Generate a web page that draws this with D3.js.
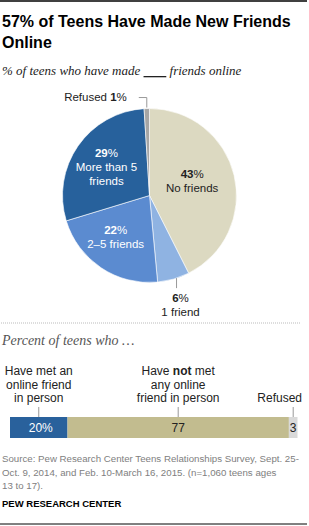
<!DOCTYPE html>
<html>
<head>
<meta charset="utf-8">
<script src="https://cdn.jsdelivr.net/npm/d3@7"></script>
<style>
  body { margin: 0; background: #fff; }
  svg { display: block; }
</style>
</head>
<body>
<div id="chart"></div>
<script>
const WIDTH = 309
const HEIGHT = 526

// pie data (clockwise from 12 o'clock)
const pieKeys = ["none", "one", "twoFive", "moreFive", "refused"]
const pieValues = [43, 6, 22, 29, 1]
const pieNames = [["No friends"], ["1 friend"], ["2\u20135 friends"], ["More than 5", "friends"], ["Refused"]]
const pieColors = ["#dcd9c1", "#8fb3e2", "#5b8bd0", "#27619c", "#a5a5a5"]

// bar data
const barKeys = ["met", "notMet", "refused"]
const barValues = [20, 77, 3]
const barValueLabels = ["20%", "77", "3"]
const barColors = ["#29619c", "#c2bc8f", "#d9d9d9"]
const barTextColors = ["#fff", "#222", "#222"]

const svg = d3.select("#chart").append("svg")
  .attr("width", WIDTH)
  .attr("height", HEIGHT)

const SANS = "'Liberation Sans', Arial, sans-serif"
const SERIF = "'Liberation Serif', Georgia, serif"

// rules top and bottom
svg.append("line").attr("x1", 0).attr("x2", 307).attr("y1", 1).attr("y2", 1)
  .attr("stroke", "#000").attr("stroke-width", 1.5)
svg.append("line").attr("x1", 0).attr("x2", 307).attr("y1", 524).attr("y2", 524)
  .attr("stroke", "#000").attr("stroke-width", 1)

// title
const title = svg.append("text")
  .attr("font-family", SANS).attr("font-weight", "bold").attr("font-size", "16px")
  .attr("fill", "#000")
title.append("tspan").attr("x", 2).attr("y", 27).text("57% of Teens Have Made New Friends")
title.append("tspan").attr("x", 2).attr("y", 48).text("Online")

const sub = svg.append("text")
  .attr("x", 2).attr("y", 75)
  .attr("font-family", SERIF).attr("font-style", "italic").attr("font-size", "13px")
  .attr("fill", "#222")
sub.append("tspan").text("% of teens who have made ")
sub.append("tspan").attr("text-decoration", "underline").text("\u00a0\u00a0\u00a0\u00a0\u00a0\u00a0\u00a0")
sub.append("tspan").text(" friends online")

// ---------------- pie ----------------
const CX = 149.5, CY = 195.5, R = 87
const gPie = svg.append("g").attr("transform", `translate(${CX}, ${CY})`)

const pie = d3.pie().sort(null).value(d => d)
const arcs = pie(pieValues)
const arc = d3.arc().innerRadius(0).outerRadius(R)
const labelArc = d3.arc().innerRadius(50).outerRadius(50)

gPie.selectAll("path.slice")
  .data(arcs)
  .enter().append("path")
  .attr("class", "slice")
  .attr("d", arc)
  .attr("fill", (d, i) => pieColors[i])
  .attr("stroke", "#fff")
  .attr("stroke-width", 0.6)

// inside labels: none, twoFive, moreFive
const insideIdx = [0, 2, 3]
const insideNudge = { 0: [-6, -3], 2: [-6, 0], 3: [-2, 0] }
insideIdx.forEach(i => {
  const [cx, cy] = labelArc.centroid(arcs[i])
  const lines = pieNames[i]
  const x = cx + insideNudge[i][0]
  const top = cy + insideNudge[i][1] - (lines.length * 14) / 2 + 4
  const col = i === 0 ? "#222" : "#fff"
  const t = gPie.append("text")
    .attr("text-anchor", "middle")
    .attr("font-family", SANS).attr("font-size", "11.5px")
    .attr("fill", col)
  t.append("tspan").attr("x", x).attr("y", top)
    .attr("font-weight", "bold").text(pieValues[i])
  t.append("tspan").text("%")
  lines.forEach((l, k) => {
    t.append("tspan").attr("x", x).attr("y", top + 14 * (k + 1)).text(l)
  })
})

// outside label: 1 friend (below)
{
  const a = arcs[1]
  const mid = (a.startAngle + a.endAngle) / 2
  const px = R * Math.sin(mid) + 3
  const py = -R * Math.cos(mid)
  gPie.append("line")
    .attr("x1", px).attr("x2", px)
    .attr("y1", py - 1).attr("y2", py + 9)
    .attr("stroke", "#999").attr("stroke-width", 1)
  const t = gPie.append("text")
    .attr("text-anchor", "middle")
    .attr("font-family", SANS).attr("font-size", "11.5px").attr("fill", "#222")
  t.append("tspan").attr("x", px + 4).attr("y", py + 23)
    .attr("font-weight", "bold").text(pieValues[1])
  t.append("tspan").text("%")
  t.append("tspan").attr("x", px + 4).attr("y", py + 37).text(pieNames[1][0])
}

// outside label: refused (top left)
{
  const a = arcs[4]
  const mid = (a.startAngle + a.endAngle) / 2
  const px = R * Math.sin(mid)
  const py = -R * Math.cos(mid)
  gPie.append("path")
    .attr("d", `M${px},${py - 1}V${py - 11}H${px - 8}`)
    .attr("fill", "none")
    .attr("stroke", "#999").attr("stroke-width", 1)
  const t = gPie.append("text")
    .attr("x", px - 20).attr("y", py - 8)
    .attr("text-anchor", "end")
    .attr("font-family", SANS).attr("font-size", "11.5px").attr("fill", "#222")
  t.append("tspan").text(pieNames[4][0] + " ")
  t.append("tspan").attr("font-weight", "bold").text(pieValues[4])
  t.append("tspan").text("%")
}

// dotted separator
svg.append("line")
  .attr("x1", 1).attr("x2", 300).attr("y1", 323).attr("y2", 323)
  .attr("stroke", "#bbb").attr("stroke-width", 1)
  .attr("stroke-dasharray", "1,1")

svg.append("text")
  .attr("x", 2).attr("y", 345)
  .attr("font-family", SERIF).attr("font-style", "italic").attr("font-size", "14px")
  .attr("fill", "#555")
  .text("Percent of teens who \u2026")

// ---------------- stacked bar ----------------
const BAR_Y = 417, BAR_H = 21
const x = d3.scaleLinear().domain([0, d3.sum(barValues)]).range([10, 297.5])
const starts = barValues.map((v, i) => d3.sum(barValues.slice(0, i)))

const gBar = svg.append("g")
gBar.selectAll("rect")
  .data(barValues)
  .enter().append("rect")
  .attr("x", (d, i) => x(starts[i]))
  .attr("y", BAR_Y)
  .attr("width", (d, i) => x(starts[i] + d) - x(starts[i]))
  .attr("height", BAR_H)
  .attr("fill", (d, i) => barColors[i])

gBar.selectAll("text.val")
  .data(barValues)
  .enter().append("text")
  .attr("class", "val")
  .attr("x", (d, i) => x(starts[i] + d / 2) + (i === 0 ? 2 : 0))
  .attr("y", BAR_Y + 15)
  .attr("text-anchor", "middle")
  .attr("font-family", SANS).attr("font-size", "12px")
  .attr("fill", (d, i) => barTextColors[i])
  .text((d, i) => barValueLabels[i])

// category labels above bar
const catLabels = [
  [["Have met an"], ["online friend"], ["in person"]],
  [[["Have "], ["not", true], [" met"]], ["any online"], ["friend in person"]],
  [["Refused"]]
]
barValues.forEach((d, i) => {
  const cx = x(starts[i] + d / 2)
  gBar.append("line")
    .attr("x1", cx).attr("x2", cx)
    .attr("y1", 407).attr("y2", BAR_Y)
    .attr("stroke", "#999").attr("stroke-width", 1)
  const lines = catLabels[i]
  const isLast = i === barValues.length - 1
  const lx = isLast ? 302 : cx
  const t = gBar.append("text")
    .attr("text-anchor", isLast ? "end" : "middle")
    .attr("font-family", SANS).attr("font-size", "12px").attr("fill", "#222")
  const y0 = 402 - (lines.length - 1) * 13.5
  lines.forEach((l, k) => {
    if (Array.isArray(l[0])) {
      l.forEach((part, p) => {
        const s = t.append("tspan").text(part[0])
        if (p === 0) s.attr("x", lx).attr("y", y0 + k * 13.5)
        if (part[1]) s.attr("font-weight", "bold")
      })
    } else {
      t.append("tspan").attr("x", lx).attr("y", y0 + k * 13.5).text(l[0])
    }
  })
})

// source
const srcLines = [
  "Source: Pew Research Center Teens Relationships Survey, Sept. 25-",
  "Oct. 9, 2014, and Feb. 10-March 16, 2015. (n=1,060 teens ages",
  "13 to 17)."
]
srcLines.forEach((l, k) => {
  svg.append("text")
    .attr("x", 2).attr("y", 462 + k * 13.5)
    .attr("font-family", SANS).attr("font-size", "9.7px").attr("fill", "#808080")
    .text(l)
})

svg.append("text")
  .attr("x", 2).attr("y", 507)
  .attr("font-family", SANS).attr("font-weight", "bold").attr("font-size", "9.5px")
  .attr("fill", "#000")
  .text("PEW RESEARCH CENTER")
</script>
</body>
</html>
